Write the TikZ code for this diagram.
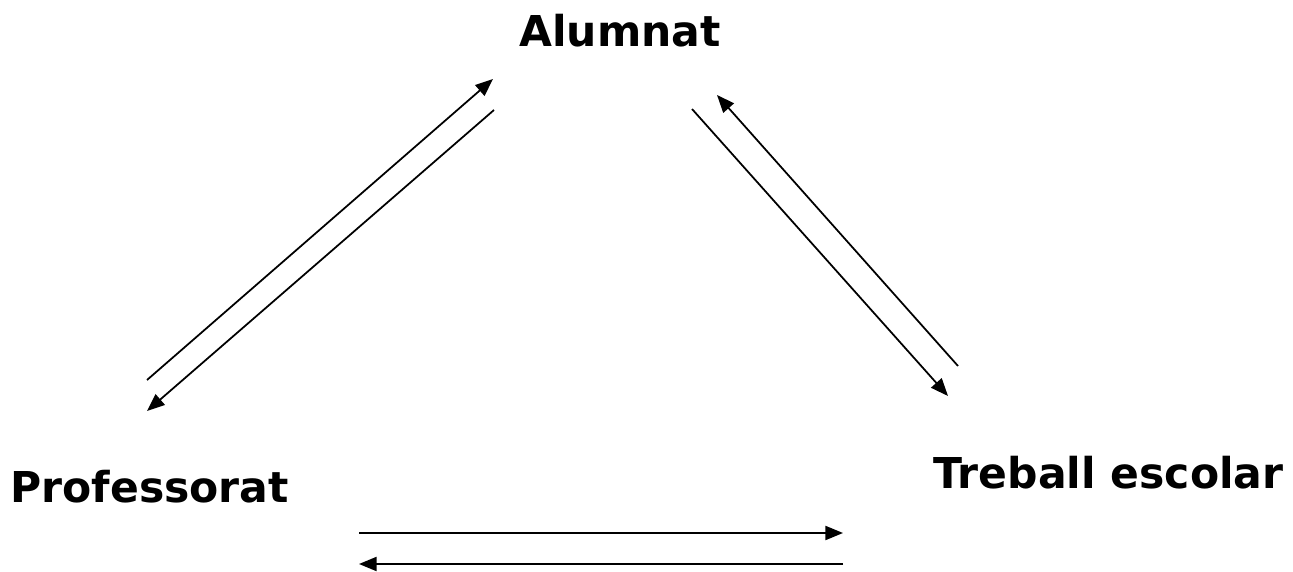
\documentclass[tikz,border=0pt]{standalone}
\usepackage{fontspec}
\setmainfont{DejaVu Sans}
\usetikzlibrary{arrows.meta}

\begin{document}
\begin{tikzpicture}[every node/.style={font=\bfseries\fontsize{24.2}{29}\selectfont, inner sep=0pt},
  flow/.style={line width=1pt, -{Triangle[length=10pt,width=8pt]}}]
  % Frame
  \useasboundingbox (0,0) rectangle (25.86,-11.44);

  % Labels
  \node[anchor=base] (alumnat) at (12.40,-0.94) {Alumnat};
  \node[anchor=base west] (prof) at (0.20,-10.04) {Professorat};
  \node[anchor=base east] (treball) at (25.68,-9.76) {Treball escolar};

  % Ends of the arrows
  \coordinate (prof up) at (2.94,-7.60);
  \coordinate (prof down) at (2.94,-8.22);
  \coordinate (alum left up) at (9.86,-1.58);
  \coordinate (alum left down) at (9.88,-2.20);
  \coordinate (alum right down) at (13.84,-2.18);
  \coordinate (alum right up) at (14.34,-1.90);
  \coordinate (treb up) at (19.16,-7.32);
  \coordinate (treb down) at (18.96,-7.92);
  \coordinate (bot left a) at (7.18,-10.66);
  \coordinate (bot right a) at (16.86,-10.66);
  \coordinate (bot left b) at (7.18,-11.28);
  \coordinate (bot right b) at (16.86,-11.28);

  % Professorat <-> Alumnat
  \draw[flow] (prof up) -- (alum left up);
  \draw[flow] (alum left down) -- (prof down);

  % Alumnat <-> Treball escolar
  \draw[flow] (alum right down) -- (treb down);
  \draw[flow] (treb up) -- (alum right up);

  % Professorat <-> Treball escolar
  \draw[flow] (bot left a) -- (bot right a);
  \draw[flow] (bot right b) -- (bot left b);
\end{tikzpicture}
\end{document}
